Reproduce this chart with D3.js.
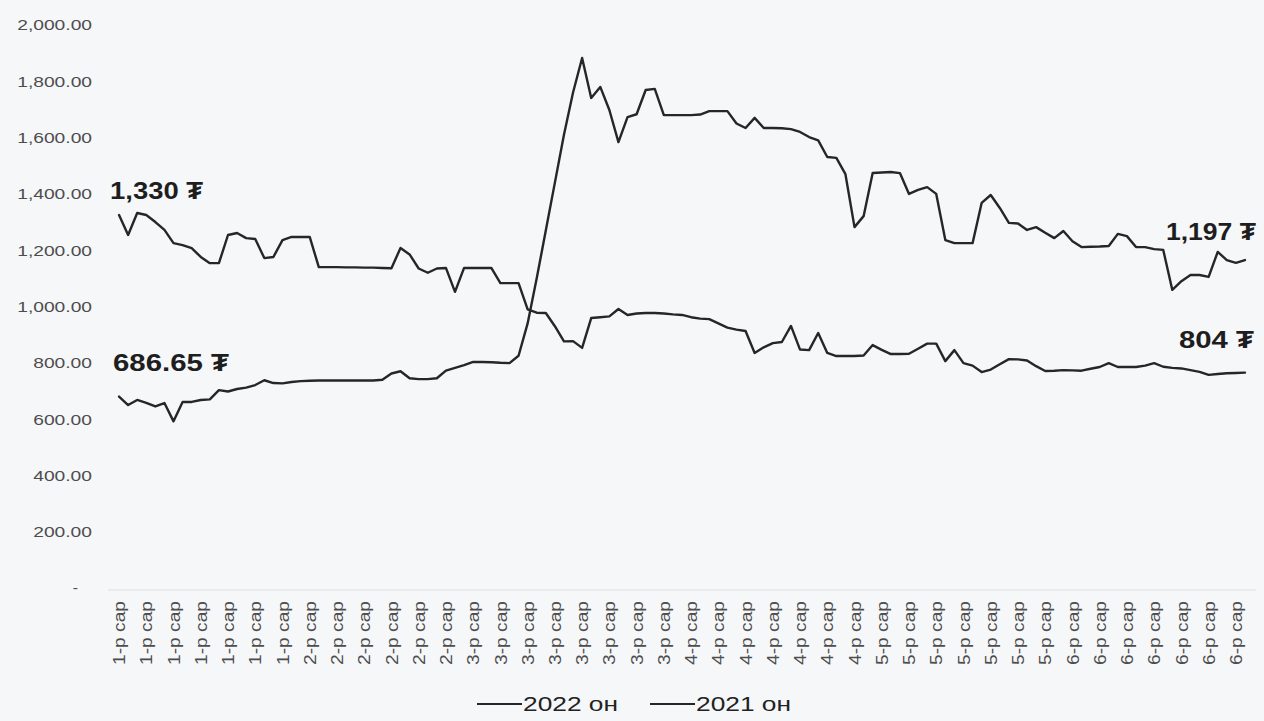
<!DOCTYPE html>
<html><head><meta charset="utf-8">
<script src="https://cdn.jsdelivr.net/npm/d3@7"></script>
<style>
body{margin:0;background:#f6f7f9;}
svg{display:block;font-family:"Liberation Sans",Arial,"DejaVu Sans",sans-serif;}
</style>
</head><body>
<svg id="chart" width="1264" height="721"></svg>
<script>
// ---------- data ----------
const monthNames = ["1-р сар","2-р сар","3-р сар","4-р сар","5-р сар","6-р сар"];
const daysPerMonth = [21,18,23,21,21,21];
const categories = monthNames.flatMap((m,i)=>Array(daysPerMonth[i]).fill(m));
const yTicks = [0,200,400,600,800,1000,1200,1400,1600,1800,2000];
const seriesNames = ["2022 он","2021 он"];

const series2022 = [680,650,668,658,645,657,592,661,661,668,670,703,698,707,712,721,738,728,727,732,
735,736,737,737,737,737,737,737,737,740,762,770,745,742,742,745,772,782,792,803,
803,802,800,799,825,940,1100,1270,1440,1610,1760,1883,1741,1780,1698,1584,1673,1683,1769,1773,
1680,1680,1680,1680,1682,1694,1694,1694,1650,1634,1670,1634,1634,1633,1630,1620,1602,1590,1531,1528,
1470,1282,1321,1474,1476,1478,1474,1400,1414,1424,1400,1236,1225,1225,1225,1368,1396,1350,1297,1295,
1272,1282,1262,1243,1268,1232,1211,1212,1213,1215,1258,1250,1211,1211,1204,1201,1059,1090,1112,1112,
1105,1194,1165,1155,1165];

const series2021 = [1325,1254,1332,1325,1300,1272,1225,1218,1207,1176,1154,1154,1254,1261,1243,1240,1172,1176,1236,1247,
1247,1247,1140,1140,1140,1139,1139,1138,1138,1137,1136,1208,1185,1135,1120,1135,1137,1052,1137,1137,
1137,1137,1083,1083,1083,990,978,977,930,876,877,853,959,962,965,991,970,975,977,977,
975,972,970,962,957,955,940,925,918,913,835,855,870,874,931,847,845,906,835,824,
824,824,826,863,846,831,831,832,850,868,868,806,845,799,790,767,776,795,813,812,
808,788,771,772,774,773,772,779,785,799,785,785,785,790,799,786,782,780,774,768,
757,760,763,764,765];

const annotationTexts = ["1,330 ₮","686.65 ₮","1,197 ₮","804 ₮"];

// ---------- drawing ----------
const svg = d3.select("#chart");
const W = 1264, H = 721;
svg.append("rect").attr("width",W).attr("height",H).attr("fill","#f6f7f9");

const idx = d3.range(categories.length);
const x = d3.scalePoint().domain(idx).range([114.5,1249.5]).padding(0.5);
const y = d3.scaleLinear().domain([0,2000]).range([588,25]);

function stretch(sel,k){
  sel.each(function(){
    const w=this.getComputedTextLength();
    this.setAttribute("textLength", w*k);
    this.setAttribute("lengthAdjust","spacingAndGlyphs");
  });
}
function fitWidth(sel,target){
  sel.attr("textLength",target).attr("lengthAdjust","spacingAndGlyphs");
}

// x axis line
svg.append("line").attr("x1",108).attr("x2",1256).attr("y1",y(0)+2).attr("y2",y(0)+2)
  .attr("stroke","#dedfe2").attr("stroke-width",1);

// y axis
const yAxis = svg.append("g").attr("transform","translate(100,0)")
  .call(d3.axisLeft(y).tickValues(yTicks).tickSize(0).tickPadding(8)
    .tickFormat(v=> v===0 ? "-" : d3.format(",.2f")(v)));
yAxis.select(".domain").remove();
yAxis.selectAll("text").attr("font-size",15.5).attr("fill","#4d4d4d")
  .attr("font-family","'Liberation Sans',Arial,sans-serif");
stretch(yAxis.selectAll("text").filter(v=>v!==0),1.24);
yAxis.selectAll("text").filter(v=>v===0).attr("dx",-14);

// x axis
const xAxis = svg.append("g").attr("transform",`translate(0,${y(0)})`)
  .call(d3.axisBottom(x).tickValues(idx.filter(i=>i%3===0)).tickSize(0)
    .tickFormat(i=>categories[i]));
xAxis.select(".domain").remove();
xAxis.selectAll("text")
  .attr("font-size",16).attr("fill","#4d4d4d")
  .attr("font-family","'Liberation Sans',Arial,sans-serif")
  .attr("text-anchor","end")
  .attr("transform","rotate(-90)")
  .attr("x",-13).attr("y",0).attr("dy","0.35em");
fitWidth(xAxis.selectAll("text"),64);

// lines
const line = d3.line().x((d,i)=>x(i)).y(d=>y(d)).curve(d3.curveLinear);
[series2022,series2021].forEach(s=>{
  svg.append("path").datum(s).attr("d",line)
    .attr("fill","none").attr("stroke","#262626").attr("stroke-width",2.4)
    .attr("stroke-linejoin","round").attr("stroke-linecap","round");
});

// annotations
const ann = svg.append("g").attr("font-weight","bold").attr("font-size",24).attr("fill","#1e1e1e");
const last = categories.length-1;
ann.append("text").attr("x",x(0)-9).attr("y",y(series2021[0])-16).text(annotationTexts[0]).call(fitWidth,93);
ann.append("text").attr("x",x(0)-6).attr("y",y(series2022[0])-26).text(annotationTexts[1]).call(fitWidth,116);
ann.append("text").attr("x",x(last)+11).attr("y",y(series2022[last])-20).attr("text-anchor","end").text(annotationTexts[2]).call(fitWidth,90);
ann.append("text").attr("x",x(last)+9).attr("y",y(series2021[last])-25).attr("text-anchor","end").text(annotationTexts[3]).call(fitWidth,75);

// legend
const lg = svg.append("g").attr("font-size",20).attr("fill","#222");
const legendItems = [{name:seriesNames[0],x0:477},{name:seriesNames[1],x0:650}];
legendItems.forEach(it=>{
  lg.append("line").attr("x1",it.x0).attr("x2",it.x0+45).attr("y1",704).attr("y2",704)
    .attr("stroke","#262626").attr("stroke-width",2);
  lg.append("text").attr("x",it.x0+46).attr("y",711).text(it.name).call(fitWidth,95);
});
</script>
</body></html>
